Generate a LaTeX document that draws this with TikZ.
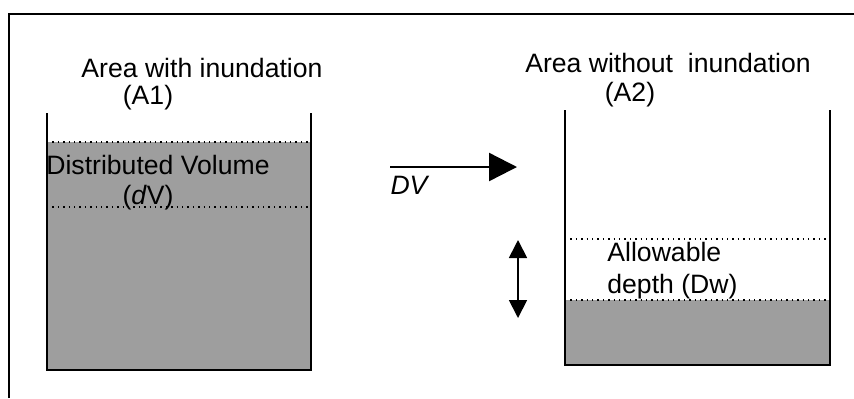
\documentclass[tikz,border=0pt]{standalone}
\usepackage{fontspec}
\setmainfont{Liberation Sans}
\usetikzlibrary{arrows.meta,positioning}

\begin{document}
\begin{tikzpicture}[x=0.5pt,y=-0.5pt]
    \tikzset{TankStyle/.style = {line width=0.7pt},
      WaterStyle/.style = {fill=black!38},
      LevelStyle/.style = {dotted, line width=0.7pt},
      LabelStyle/.style = {font=\fontsize{13.3}{16}\selectfont, inner sep=0pt}}
    \useasboundingbox (0,0) rectangle (854,398);
    % frame
    \draw[line width=0.6pt] (9,398) -- (9,14) -- (854,14);
    % tank A1
    \fill[WaterStyle] (47,142) rectangle (311,370);
    \draw[LevelStyle] (47,142) -- (311,142);
    \draw[LevelStyle] (47,207) -- (311,207);
    \draw[TankStyle] (47,113) -- (47,370) -- (311,370) -- (311,113);
    \node[LabelStyle] (A1) at (202,68) {Area with inundation};
    \node[LabelStyle] (A1b) at (148,98) {(A1)};
    \node[LabelStyle] (dV) at (158,165) {Distributed Volume};
    \node[LabelStyle] (dVb) at (148,198) {(\textit{d}V)};
    % tank A2
    \fill[WaterStyle] (565,300) rectangle (830,365);
    \draw[LevelStyle] (565,239) -- (830,239);
    \draw[LevelStyle] (565,300) -- (830,300);
    \draw[TankStyle] (565,110) -- (565,365) -- (830,365) -- (830,110);
    \node[LabelStyle] (A2) at (668,63) {Area without\ \ inundation};
    \node[LabelStyle] (A2b) at (630,95) {(A2)};
    \node[LabelStyle, anchor=west, align=left] (Dw) at (607,271) {Allowable\\depth (Dw)};
    % transfer
    \coordinate (DVs) at (390,167);
    \coordinate (DVe) at (517,167);
    \draw[line width=1.2pt, -{Triangle[length=14pt,width=14pt]}] (DVs) -- (DVe);
    \node[LabelStyle] (DV) at (410,185) {\textit{DV}};
    \coordinate (Dtop) at (518,240);
    \coordinate (Dbot) at (518,318);
    \draw[line width=0.9pt, {Triangle[length=9pt,width=9pt]}-{Triangle[length=9pt,width=9pt]}] (Dtop) -- (Dbot);
  \end{tikzpicture}
\end{document}
